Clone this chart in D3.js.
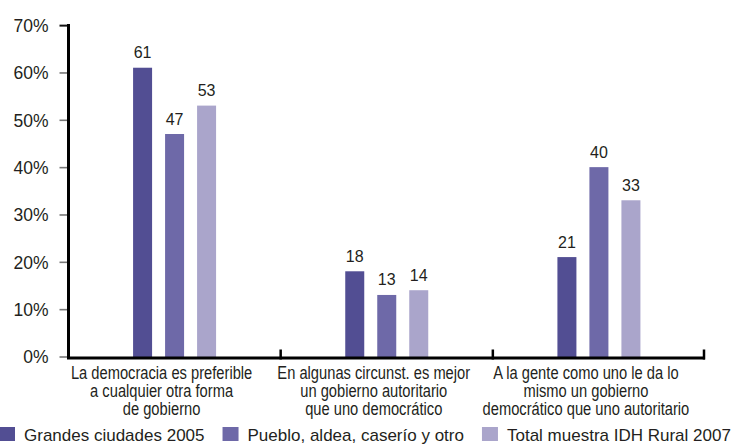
<!DOCTYPE html>
<html>
<head>
<meta charset="utf-8">
<script src="https://cdn.jsdelivr.net/npm/d3@7"></script>
<style>
  html, body { margin: 0; padding: 0; background: #fff; }
  svg { display: block; }
  .ytick text { font-family: "Liberation Sans", Arial, sans-serif; font-size: 17.5px; fill: #231f20; }
  .val { font-family: "Liberation Sans", Arial, sans-serif; font-size: 16px; fill: #231f20; }
  .cat { font-family: "Liberation Sans", Arial, sans-serif; font-size: 17.5px; fill: #231f20; }
  .leg { font-family: "Liberation Sans", Arial, sans-serif; font-size: 17px; fill: #231f20; }
</style>
</head>
<body>
<svg id="chart" width="734" height="445"></svg>
<script>
// ---- data ----
const categories = [
  ["La democracia es preferible", "a cualquier otra forma", "de gobierno"],
  ["En algunas circunst. es mejor", "un gobierno autoritario", "que uno democrático"],
  ["A la gente como uno le da lo", "mismo un gobierno", "democrático que uno autoritario"]
];
const seriesNames = ["Grandes ciudades 2005", "Pueblo, aldea, caserío y otro", "Total muestra IDH Rural 2007"];
const grandesCiudades = [61, 18, 21];
const puebloAldea = [47, 13, 40];
const totalMuestra = [53, 14, 33];
const yTicks = [0, 10, 20, 30, 40, 50, 60, 70];
const seriesColors = ["#524e93", "#6e69a8", "#aaa5cb"];

const seriesValues = [grandesCiudades, puebloAldea, totalMuestra];

const svg = d3.select("#chart");
const left = 68.5, right = 705, zeroY = 356.5;

const y = d3.scaleLinear().domain([0, 70]).range([zeroY, zeroY - 70 * 4.734]);
const catIdx = categories.map((c, i) => i);
const x0 = d3.scaleBand().domain(catIdx).range([left, right]).padding(0);
const x1 = d3.scaleBand().domain([0, 1, 2]).range([x0.bandwidth() / 2 - 48, x0.bandwidth() / 2 + 48])
  .paddingInner(13 / 32).paddingOuter(13 / 64);

// bars
const groups = svg.append("g").selectAll("g").data(catIdx).join("g")
  .attr("transform", d => `translate(${x0(d)},0)`);

groups.selectAll("rect").data(ci => seriesValues.map((s, si) => ({ si, v: s[ci] }))).join("rect")
  .attr("x", d => x1(d.si))
  .attr("width", x1.bandwidth())
  .attr("y", d => y(d.v))
  .attr("height", d => y(0) - y(d.v) + 1)
  .attr("fill", d => seriesColors[d.si]);

groups.selectAll("text.val").data(ci => seriesValues.map((s, si) => ({ si, v: s[ci] }))).join("text")
  .attr("class", "val")
  .attr("x", d => x1(d.si) + x1.bandwidth() / 2)
  .attr("y", d => y(d.v) - 9.5)
  .attr("text-anchor", "middle")
  .text(d => d.v);

// y axis
const yAxis = d3.axisLeft(y).tickValues(yTicks).tickFormat(d => d + "%").tickSize(9).tickPadding(11);
const yg = svg.append("g").attr("class", "ytick").attr("transform", `translate(${left},0)`).call(yAxis);
yg.select(".domain").remove();
yg.selectAll(".tick line").attr("stroke", d => d === 70 ? "#111" : "#777").attr("stroke-width", d => d === 70 ? 2 : 1.6);
yg.selectAll(".tick text").attr("dy", "0.36em");

svg.append("line").attr("x1", left).attr("x2", left).attr("y1", y(70) - 1).attr("y2", zeroY + 2.5)
  .attr("stroke", "#000").attr("stroke-width", 3);

// x axis
svg.append("line").attr("x1", left - 1.5).attr("x2", right).attr("y1", zeroY + 1.5).attr("y2", zeroY + 1.5)
  .attr("stroke", "#000").attr("stroke-width", 3);
const boundaries = catIdx.slice(1).map(i => x0(i)).concat([right - 1]);
svg.append("g").selectAll("line").data(boundaries).join("line")
  .attr("x1", d => d).attr("x2", d => d)
  .attr("y1", zeroY - 7).attr("y2", zeroY + 3)
  .attr("stroke", "#000").attr("stroke-width", 2.5);

// category labels (condensed look via horizontal scaling)
const catG = svg.append("g").selectAll("text").data(catIdx).join("text")
  .attr("class", "cat")
  .attr("text-anchor", "middle")
  .attr("transform", d => `translate(${x0(d) + x0.bandwidth() / 2 - 13},0) scale(0.84,1)`);
catG.selectAll("tspan").data(d => categories[d]).join("tspan")
  .attr("x", 0)
  .attr("y", (d, i) => 379 + i * 18)
  .text(d => d);

// legend
const legend = svg.append("g");
let lx = -1;
seriesNames.forEach((name, i) => {
  legend.append("rect").attr("x", lx).attr("y", 427).attr("width", 16).attr("height", 14).attr("fill", seriesColors[i]);
  const t = legend.append("text").attr("class", "leg").attr("x", lx + 25).attr("y", 441).text(name);
  const w = t.node().getComputedTextLength();
  lx = lx + 25 + w + 18;
});
</script>
</body>
</html>
